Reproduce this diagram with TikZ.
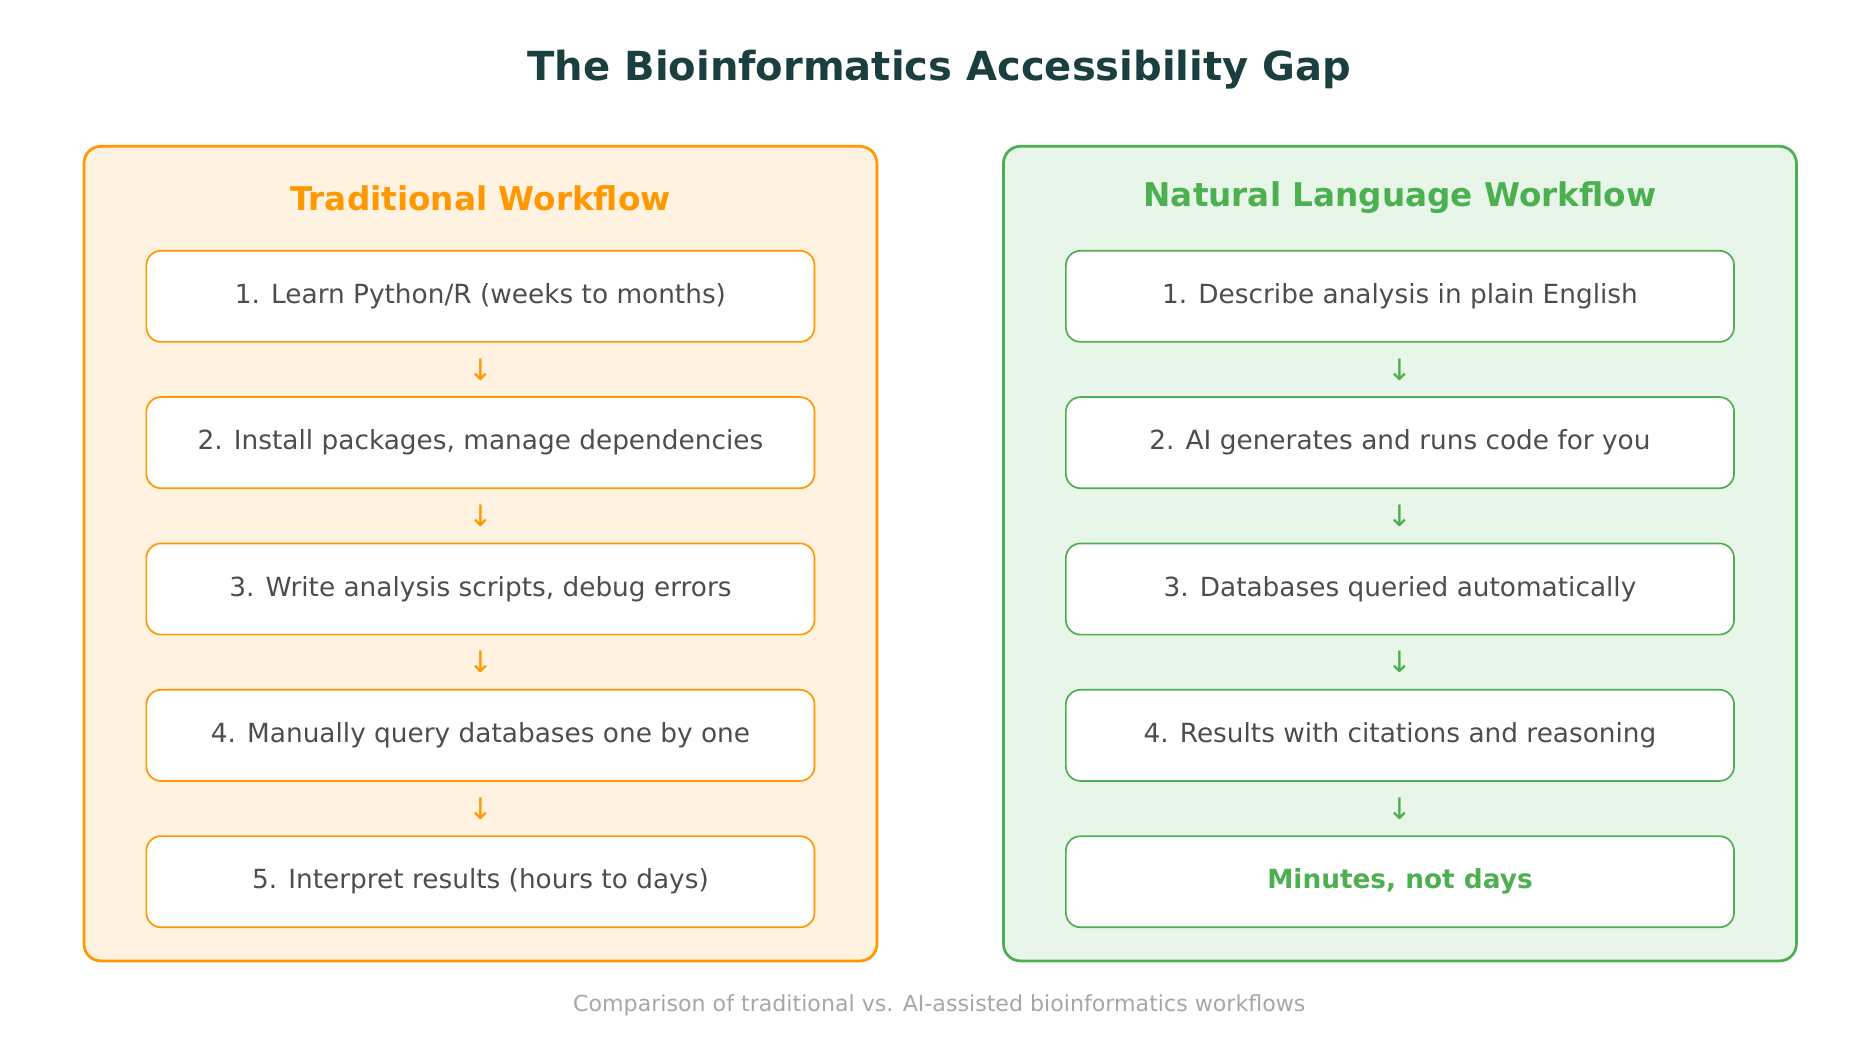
\documentclass[tikz,border=0pt]{standalone}
\usepackage{fontspec}
\setmainfont{DejaVu Sans}
\usetikzlibrary{positioning}
\definecolor{trad}{HTML}{FF9800}
\definecolor{tradbg}{HTML}{FFF2E0}
\definecolor{nat}{HTML}{4CAF50}
\definecolor{natbg}{HTML}{E8F5E9}
\definecolor{titlecol}{HTML}{1B3F3F}
\definecolor{stepcol}{HTML}{4D4D4D}
\definecolor{capcol}{HTML}{A6A6A6}
\begin{document}
\begin{tikzpicture}[
    x=0.02cm, y=-0.02cm,
    panel/.style={rounded corners=8pt, line width=1.3pt, minimum width=661*0.02cm, minimum height=679*0.02cm},
    stepbox/.style={rounded corners=7pt, line width=0.8pt, fill=white, minimum width=557*0.02cm, minimum height=76*0.02cm, text=stepcol, font=\fontsize{12.5}{15}\selectfont},
    head/.style={font=\fontsize{15.5}{18}\bfseries\selectfont},
    down/.style={font=\fontsize{14}{16}\selectfont},
]
    \useasboundingbox (0,0) rectangle (1563,868);
    % title and caption
    \node[text=titlecol, font=\fontsize{19}{22}\bfseries\selectfont] (title) at (783,58) {The Bioinformatics Accessibility Gap};
    \node[text=capcol, font=\fontsize{10.5}{12}\selectfont] (caption) at (783,838) {Comparison of traditional vs. AI-assisted bioinformatics workflows};

    % panels
    \node[panel, draw=trad, fill=tradbg] (L) at (400.5,461.5) {};
    \node[panel, draw=nat, fill=natbg] (R) at (1167,461.5) {};
    \node[head, text=trad] (L-head) at (400.5,165) {Traditional Workflow};
    \node[head, text=nat] (R-head) at (1167,165) {Natural Language Workflow};

    % traditional steps
    \foreach \i/\txt in {1/{1. Learn Python/R (weeks to months)},
                         2/{2. Install packages, manage dependencies},
                         3/{3. Write analysis scripts, debug errors},
                         4/{4. Manually query databases one by one},
                         5/{5. Interpret results (hours to days)}}
        \node[stepbox, draw=trad] (L-\i) at (400.5,125+122*\i) {\txt};

    % natural language steps
    \foreach \i/\txt in {1/{1. Describe analysis in plain English},
                         2/{2. AI generates and runs code for you},
                         3/{3. Databases queried automatically},
                         4/{4. Results with citations and reasoning}}
        \node[stepbox, draw=nat] (R-\i) at (1167,125+122*\i) {\txt};
    \node[stepbox, draw=nat, text=nat, font=\fontsize{12.5}{15}\bfseries\selectfont] (R-5) at (1167,735) {Minutes, not days};

    % arrows between steps
    \foreach \i in {1,...,4}{
        \node[down, text=trad] (L-a\i) at (400.5,186+122*\i) {↓};
        \node[down, text=nat] (R-a\i) at (1167,186+122*\i) {↓};
    }
\end{tikzpicture}
\end{document}
